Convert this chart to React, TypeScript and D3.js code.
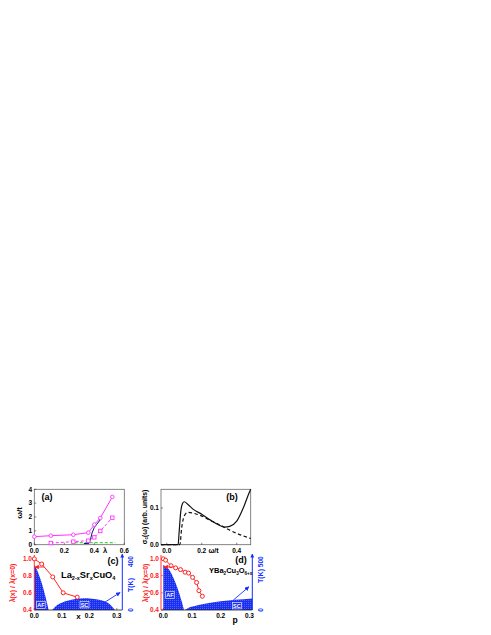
import React from "react";
import * as d3 from "d3";

// Panel (a)
const lambdaCircles = [0, 0.11, 0.26, 0.36, 0.4, 0.44, 0.52];
const omegaCircles = [0.58, 0.65, 0.72, 0.87, 1.45, 1.93, 3.45];
const lambdaSquares = [0.11, 0.26, 0.36, 0.4, 0.44, 0.52];
const omegaSquares = [0.12, 0.22, 0.29, 0.53, 0.99, 1.95];
const lambdaNavy = [0.33, 0.365, 0.375, 0.385, 0.4, 0.44];
const omegaNavy = [0.08, 0.1, 0.4, 0.85, 1.25, 1.8];
const lambdaGreen = [0.27, 0.54];
const omegaGreen = [0.15, 0.15];
const aXTicks = [0, 0.2, 0.4, 0.6];
const aYTicks = [0, 1, 2, 3, 4];

// Panel (b)
const omegaSolid = [-0.033, 0.065, 0.07, 0.08, 0.09, 0.1, 0.12, 0.15, 0.2, 0.25, 0.3, 0.33, 0.36, 0.4, 0.44, 0.47, 0.48];
const sigmaSolid = [0, 0, 0.03, 0.09, 0.112, 0.117, 0.11, 0.097, 0.083, 0.067, 0.053, 0.048, 0.05, 0.064, 0.103, 0.14, 0.151];
const omegaDashed = [-0.033, 0.075, 0.085, 0.1, 0.12, 0.15, 0.2, 0.25, 0.3, 0.35, 0.4, 0.48];
const sigmaDashed = [0, 0, 0.045, 0.078, 0.088, 0.086, 0.078, 0.066, 0.055, 0.042, 0.031, 0.017];
const bXTicks = [0, 0.2, 0.4];
const bYTicks = [0, 0.1];

// Panel (c) LSCO
const xLsco = [0, 0.027, 0.067, 0.105, 0.156];
const lamLsco = [0.995, 0.935, 0.785, 0.6, 0.55];
const xAfLsco = [0, 0.01, 0.02, 0.03, 0.04, 0.052];
const tAfLsco = [372, 330, 270, 200, 115, 0];
const xScLsco = [0.065, 0.08, 0.1, 0.12, 0.15, 0.18, 0.21, 0.24, 0.27, 0.293];
const tScLsco = [0, 35, 60, 76, 91, 97, 94, 82, 55, 0];
const cXTicks = [0, 0.1, 0.2, 0.3];
const lamTicks = [0.4, 0.6, 0.8, 1.0];

// Panel (d) YBCO
const pYbco = [0, 0.008, 0.027, 0.043, 0.06, 0.076, 0.088, 0.102, 0.116, 0.124, 0.136];
const lamYbco = [0.996, 0.98, 0.915, 0.89, 0.87, 0.84, 0.83, 0.78, 0.72, 0.625, 0.56];
const pAfYbco = [0, 0.02, 0.04, 0.055, 0.065, 0.072];
const tAfYbco = [466, 420, 300, 180, 80, 0];
const pScYbco = [0.075, 0.09, 0.12, 0.15, 0.2, 0.25, 0.31];
const tScYbco = [0, 25, 50, 68, 90, 105, 120];
const dXTicks = [0, 0.1, 0.2, 0.3];

const MAG = "#ff33ff";
const RED = "#ff2222";
const BLUE = "#1030ff";
const FONT = "'Liberation Sans', Arial, sans-serif";

const zip = (a: number[], b: number[]) => a.map((v, i) => [v, b[i]] as [number, number]);

export default function App() {
  const xa = d3.scaleLinear().domain([0, 0.6]).range([34.3, 124.3]);
  const ya = d3.scaleLinear().domain([0, 4]).range([544.7, 489.3]);
  const xb = d3.scaleLinear().domain([-0.033, 0.48]).range([161, 250.7]);
  const yb = d3.scaleLinear().domain([0, 0.151]).range([544.7, 489.3]);
  const xc = d3.scaleLinear().domain([0, 0.32]).range([34.3, 122.3]);
  const yl = d3.scaleLinear().domain([0.4, 1.04]).range([610, 555]);
  const tc = d3.scaleLinear().domain([0, 455]).range([610, 555]);
  const xd = d3.scaleLinear().domain([-0.008, 0.31]).range([161, 252.3]);
  const td = d3.scaleLinear().domain([0, 570]).range([610, 555]);

  const lineA = d3.line<[number, number]>().x((d) => xa(d[0])).y((d) => ya(d[1]));
  const lineB = d3.line<[number, number]>().x((d) => xb(d[0])).y((d) => yb(d[1])).curve(d3.curveMonotoneX);
  const lineC = d3.line<[number, number]>().x((d) => xc(d[0])).y((d) => yl(d[1]));
  const lineD = d3.line<[number, number]>().x((d) => xd(d[0])).y((d) => yl(d[1]));
  const areaC = d3.area<[number, number]>().x((d) => xc(d[0])).y0(tc(0)).y1((d) => tc(d[1])).curve(d3.curveMonotoneX);
  const areaD = d3.area<[number, number]>().x((d) => xd(d[0])).y0(td(0)).y1((d) => td(d[1])).curve(d3.curveMonotoneX);

  const circ = zip(lambdaCircles, omegaCircles);
  const sq = zip(lambdaSquares, omegaSquares);
  const tick = 2;
  const fs = 6.5;

  return (
    <svg width={491} height={635} style={{ position: "absolute", left: 0, top: 0 }} fontFamily={FONT} fontWeight="bold">
      <defs>
        <pattern id="hatch" width="2" height="2" patternUnits="userSpaceOnUse">
          <rect width="2" height="2" fill="#1a2ff0" />
          <rect width="1" height="1" fill="#4d62ff" />
        </pattern>
        <marker id="arrR" viewBox="0 0 10 10" refX="9" refY="5" markerWidth="5" markerHeight="5" orient="auto">
          <path d="M0,0 L10,5 L0,10 z" fill={RED} />
        </marker>
        <marker id="arrB" viewBox="0 0 10 10" refX="9" refY="5" markerWidth="5" markerHeight="5" orient="auto">
          <path d="M0,0 L10,5 L0,10 z" fill={BLUE} />
        </marker>
        <marker id="arrAx" viewBox="0 0 10 10" refX="9" refY="5" markerWidth="4" markerHeight="4" orient="auto">
          <path d="M0,0 L10,5 L0,10 z" fill={BLUE} />
        </marker>
      </defs>

      {/* ---------- Panel (a) ---------- */}
      <rect x={xa(0)} y={ya(4)} width={xa(0.6) - xa(0)} height={ya(0) - ya(4)} fill="none" stroke="#666" strokeWidth={0.8} />
      {aXTicks.map((t) => (
        <g key={"ax" + t}>
          <line x1={xa(t)} x2={xa(t)} y1={ya(0)} y2={ya(0) - tick} stroke="#333" strokeWidth={0.6} />
          <text x={xa(t)} y={552.5} fontSize={fs} textAnchor="middle">{t.toFixed(1)}</text>
        </g>
      ))}
      <text x={105} y={552.5} fontSize={7.5} textAnchor="middle">λ</text>
      {aYTicks.map((t) => (
        <g key={"ay" + t}>
          <line x1={xa(0)} x2={xa(0) + tick} y1={ya(t)} y2={ya(t)} stroke="#333" strokeWidth={0.6} />
          <text x={32} y={ya(t) + 2.3} fontSize={fs} textAnchor="end">{t}</text>
        </g>
      ))}
      <text transform="translate(22,513) rotate(-90)" fontSize={8} textAnchor="middle">ω/t</text>
      <text x={47} y={500} fontSize={9} textAnchor="middle">(a)</text>
      <path d={lineA(zip(lambdaGreen, omegaGreen)) || ""} fill="none" stroke="#44dd44" strokeWidth={1.3} strokeDasharray="3,2" />
      <path d={lineA(sq) || ""} fill="none" stroke={MAG} strokeWidth={1} strokeDasharray="3,2" />
      <path d={lineA(circ) || ""} fill="none" stroke={MAG} strokeWidth={1} />
      <path d={lineA(zip(lambdaNavy, omegaNavy)) || ""} fill="none" stroke="#001a80" strokeWidth={1} />
      {circ.map((d, i) => (
        <circle key={"c" + i} cx={xa(d[0])} cy={ya(d[1])} r={1.8} fill="white" stroke={MAG} strokeWidth={0.9} />
      ))}
      {sq.map((d, i) => (
        <rect key={"s" + i} x={xa(d[0]) - 1.7} y={ya(d[1]) - 1.7} width={3.4} height={3.4} fill="white" stroke={MAG} strokeWidth={0.9} />
      ))}

      {/* ---------- Panel (b) ---------- */}
      <rect x={161} y={489.3} width={250.7 - 161} height={544.7 - 489.3} fill="none" stroke="#666" strokeWidth={0.8} />
      {bXTicks.map((t) => (
        <g key={"bx" + t}>
          <line x1={xb(t)} x2={xb(t)} y1={yb(0)} y2={yb(0) - tick} stroke="#333" strokeWidth={0.6} />
          <text x={xb(t)} y={552.5} fontSize={fs} textAnchor="middle">{t.toFixed(1)}</text>
        </g>
      ))}
      <text x={213.5} y={552.5} fontSize={7} textAnchor="middle">ω/t</text>
      {bYTicks.map((t) => (
        <g key={"by" + t}>
          <line x1={161} x2={161 + tick} y1={yb(t)} y2={yb(t)} stroke="#333" strokeWidth={0.6} />
          <text x={159} y={yb(t) + 2.3} fontSize={fs} textAnchor="end">{t.toFixed(1)}</text>
        </g>
      ))}
      <text transform="translate(146.5,517) rotate(-90)" fontSize={6.8} textAnchor="middle">
        σ<tspan dy={1.5} fontSize={4.5}>c</tspan><tspan dy={-1.5}>(ω) (arb. units)</tspan>
      </text>
      <text x={232} y={500} fontSize={9} textAnchor="middle">(b)</text>
      <path d={lineB(zip(omegaDashed, sigmaDashed)) || ""} fill="none" stroke="#111" strokeWidth={1.2} strokeDasharray="3.5,2.5" />
      <path d={lineB(zip(omegaSolid, sigmaSolid)) || ""} fill="none" stroke="#111" strokeWidth={1.2} />

      {/* ---------- Panel (c) ---------- */}
      <path d={areaC(zip(xAfLsco, tAfLsco)) || ""} fill="url(#hatch)" />
      <path d={areaC(zip(xScLsco, tScLsco)) || ""} fill="url(#hatch)" />
      <line x1={xc(0)} x2={xc(0.32)} y1={610} y2={610} stroke="#222" strokeWidth={0.8} />
      <line x1={xc(0)} x2={xc(0)} y1={610} y2={555} stroke={RED} strokeWidth={0.9} />
      <line x1={xc(0.32)} x2={xc(0.32)} y1={610} y2={554} stroke={BLUE} strokeWidth={1} markerEnd="url(#arrAx)" />
      {cXTicks.map((t) => (
        <g key={"cx" + t}>
          <line x1={xc(t)} x2={xc(t)} y1={610} y2={608} stroke="#333" strokeWidth={0.6} />
          <text x={xc(t)} y={618} fontSize={fs} textAnchor="middle">{t.toFixed(1)}</text>
        </g>
      ))}
      <text x={78.5} y={618.5} fontSize={8} textAnchor="middle">x</text>
      {lamTicks.map((t) => (
        <g key={"cy" + t}>
          <line x1={xc(0)} x2={xc(0) + tick} y1={yl(t)} y2={yl(t)} stroke={RED} strokeWidth={0.6} />
          <text x={32} y={yl(t) + 2.3} fontSize={fs} textAnchor="end" fill={RED}>{t.toFixed(1)}</text>
        </g>
      ))}
      <text transform="translate(15,583) rotate(-90)" fontSize={7} textAnchor="middle" fill={RED}>λ(x) / λ(x=0)</text>
      <text transform={`translate(132.5,${tc(400)}) rotate(-90)`} fontSize={fs} textAnchor="middle" fill={BLUE}>400</text>
      <text transform={`translate(132.5,${tc(0)}) rotate(-90)`} fontSize={fs} textAnchor="middle" fill={BLUE}>0</text>
      <text transform="translate(132.5,585) rotate(-90)" fontSize={7} textAnchor="middle" fill={BLUE}>T(K)</text>
      <text x={113} y={563.5} fontSize={9} textAnchor="middle">(c)</text>
      <text x={61} y={577.5} fontSize={9.3}>
        La<tspan dy={2} fontSize={5.5}>2-x</tspan><tspan dy={-2}>Sr</tspan><tspan dy={2} fontSize={5.5}>x</tspan><tspan dy={-2}>CuO</tspan><tspan dy={2} fontSize={5.5}>4</tspan>
      </text>
      <path d={lineC(zip(xLsco, lamLsco)) || ""} fill="none" stroke={RED} strokeWidth={1} />
      {xLsco.map((x, i) => (
        <circle key={"lc" + i} cx={xc(x)} cy={yl(lamLsco[i])} r={2} fill="white" stroke={RED} strokeWidth={1} />
      ))}
      <line x1={xc(0.036)} x2={xc(0.002)} y1={yl(0.9)} y2={yl(0.9)} stroke={RED} strokeWidth={0.9} markerEnd="url(#arrR)" />
      <line x1={xc(0.25)} x2={xc(0.312)} y1={tc(55)} y2={tc(145)} stroke={BLUE} strokeWidth={0.9} markerEnd="url(#arrB)" />
      <rect x={36.7} y={601.5} width={8.5} height={6.8} fill="#1a2ff0" stroke="white" strokeWidth={0.6} />
      <text x={41} y={607} fontSize={5.5} textAnchor="middle" fill="white">AF</text>
      <rect x={80} y={601.5} width={9} height={6.4} fill="#1a2ff0" stroke="white" strokeWidth={0.6} />
      <text x={84.5} y={606.8} fontSize={5.5} textAnchor="middle" fill="white">SC</text>

      {/* ---------- Panel (d) ---------- */}
      <path d={areaD(zip(pAfYbco, tAfYbco)) || ""} fill="url(#hatch)" />
      <path d={areaD(zip(pScYbco, tScYbco)) || ""} fill="url(#hatch)" />
      <line x1={161} x2={252.3} y1={610} y2={610} stroke="#222" strokeWidth={0.8} />
      <line x1={161} x2={161} y1={610} y2={555} stroke={RED} strokeWidth={0.9} />
      <line x1={252.3} x2={252.3} y1={610} y2={554} stroke={BLUE} strokeWidth={1} markerEnd="url(#arrAx)" />
      {dXTicks.map((t) => (
        <g key={"dx" + t}>
          <line x1={xd(t)} x2={xd(t)} y1={610} y2={608} stroke="#333" strokeWidth={0.6} />
          <text x={xd(t)} y={618} fontSize={fs} textAnchor="middle">{t.toFixed(1)}</text>
        </g>
      ))}
      <text x={235} y={623} fontSize={8.5} textAnchor="middle">p</text>
      {lamTicks.map((t) => (
        <g key={"dy" + t}>
          <line x1={161} x2={161 + tick} y1={yl(t)} y2={yl(t)} stroke={RED} strokeWidth={0.6} />
          <text x={159} y={yl(t) + 2.3} fontSize={fs} textAnchor="end" fill={RED}>{t.toFixed(1)}</text>
        </g>
      ))}
      <text transform="translate(148,583) rotate(-90)" fontSize={7} textAnchor="middle" fill={RED}>λ(x) / λ(x=0)</text>
      <text transform={`translate(262.5,${td(500)}) rotate(-90)`} fontSize={fs} textAnchor="middle" fill={BLUE}>500</text>
      <text transform={`translate(262.5,${td(0)}) rotate(-90)`} fontSize={fs} textAnchor="middle" fill={BLUE}>0</text>
      <text transform="translate(262.5,576) rotate(-90)" fontSize={7} textAnchor="middle" fill={BLUE}>T(K)</text>
      <text x={241} y={563} fontSize={9} textAnchor="middle">(d)</text>
      <text x={209} y={573} fontSize={7.5}>
        YBa<tspan dy={2} fontSize={4.6}>2</tspan><tspan dy={-2}>Cu</tspan><tspan dy={2} fontSize={4.6}>3</tspan><tspan dy={-2}>O</tspan><tspan dy={2} fontSize={4.6}>6+x</tspan>
      </text>
      <path d={lineD(zip(pYbco, lamYbco)) || ""} fill="none" stroke={RED} strokeWidth={1} />
      {pYbco.map((x, i) => (
        <circle key={"ly" + i} cx={xd(x)} cy={yl(lamYbco[i])} r={2} fill="white" stroke={RED} strokeWidth={1} />
      ))}
      <line x1={xd(0.03)} x2={xd(0.002)} y1={yl(0.9)} y2={yl(0.9)} stroke={RED} strokeWidth={0.9} markerEnd="url(#arrR)" />
      <line x1={xd(0.244)} x2={xd(0.298)} y1={td(103)} y2={td(240)} stroke={BLUE} strokeWidth={0.9} markerEnd="url(#arrB)" />
      <rect x={165.7} y={591.5} width={8.5} height={6.8} fill="#1a2ff0" stroke="white" strokeWidth={0.6} />
      <text x={170} y={597} fontSize={5.5} textAnchor="middle" fill="white">AF</text>
      <rect x={232.3} y={602.5} width={9} height={6.4} fill="#1a2ff0" stroke="white" strokeWidth={0.6} />
      <text x={236.8} y={607.8} fontSize={5.5} textAnchor="middle" fill="white">SC</text>
    </svg>
  );
}
